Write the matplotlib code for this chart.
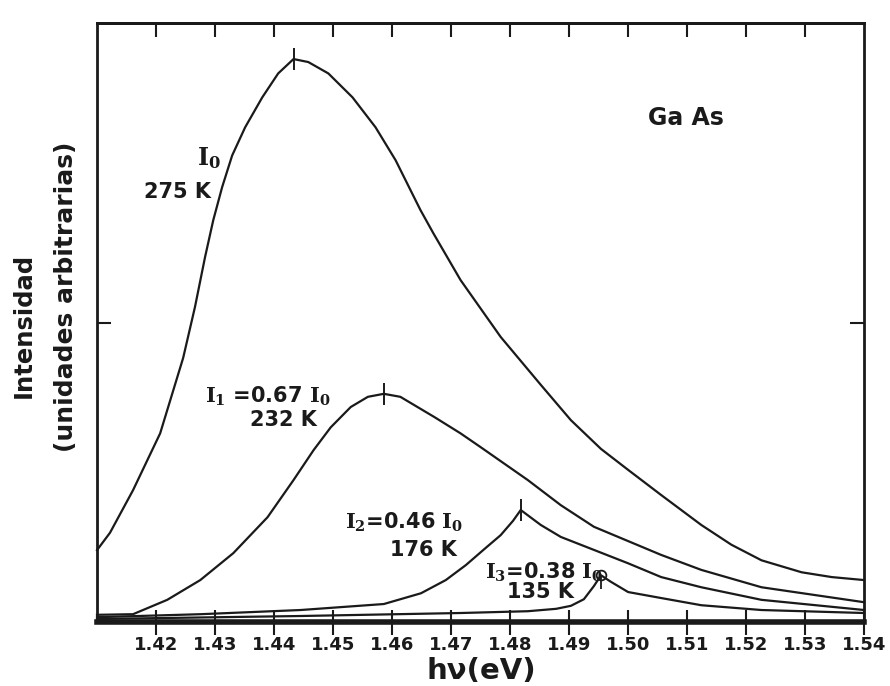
import matplotlib
matplotlib.use("Agg")
import matplotlib.pyplot as plt
import numpy as np

plt.rcParams['font.family'] = ['DejaVu Sans']
plt.rcParams['mathtext.fontset'] = 'dejavuserif'

# ---- data (photon energy in eV, intensity in arbitrary units) ----
x_275 = [1.4100, 1.4122, 1.4161, 1.4207, 1.4246, 1.4266, 1.4283, 1.4297, 1.4312, 1.4329,
         1.4351, 1.4380, 1.4407, 1.4433, 1.4458, 1.4492, 1.4533, 1.4572, 1.4606, 1.4648,
         1.4670, 1.4716, 1.4784, 1.4852, 1.4903, 1.4954, 1.5000, 1.5056, 1.5124, 1.5175,
         1.5226, 1.5294, 1.5345, 1.5400]
y_275 = [12.0, 14.9, 22.0, 31.5, 44.1, 52.6, 60.9, 67.1, 72.6, 77.9,
         82.6, 87.6, 91.6, 94.0, 93.5, 91.6, 87.6, 82.6, 77.1, 68.8,
         64.9, 57.1, 47.6, 39.6, 33.7, 28.9, 25.4, 21.2, 16.2, 12.9,
         10.3, 8.3, 7.5, 7.0]

x_232 = [1.410, 1.4161, 1.4219, 1.4275, 1.4331, 1.4389, 1.4433, 1.4467, 1.4496, 1.4530,
         1.4559, 1.4586, 1.4614, 1.4672, 1.4716, 1.4750, 1.4830, 1.4886, 1.4942, 1.5056,
         1.5124, 1.5226, 1.5400]
y_232 = [1.2, 1.3, 3.7, 7.0, 11.5, 17.5, 23.7, 28.7, 32.5, 35.9,
         37.6, 38.1, 37.6, 34.2, 31.5, 29.2, 23.7, 19.5, 15.9, 11.2,
         8.7, 5.8, 3.3]

x_176 = [1.410, 1.4275, 1.4445, 1.4586, 1.4649, 1.4691, 1.4725, 1.4759, 1.4784, 1.4805,
         1.4818, 1.4852, 1.4886, 1.5000, 1.5056, 1.5124, 1.5226, 1.5400]
y_176 = [0.8, 1.3, 2.0, 3.0, 4.8, 7.0, 9.5, 12.4, 14.5, 16.9,
         18.7, 16.2, 14.2, 9.8, 7.5, 5.8, 3.7, 2.0]

x_135 = [1.410, 1.4445, 1.4716, 1.4830, 1.4878, 1.4903, 1.4925, 1.4942, 1.4954, 1.4971,
         1.5000, 1.5056, 1.5124, 1.5226, 1.5400]
y_135 = [0.5, 1.0, 1.5, 1.8, 2.2, 2.7, 3.8, 6.0, 7.8, 6.7,
         5.0, 4.0, 2.8, 2.0, 1.5]

x_ticks = [1.42, 1.43, 1.44, 1.45, 1.46, 1.47, 1.48, 1.49, 1.50, 1.51, 1.52, 1.53, 1.54]
x_tick_labels = ["1.42", "1.43", "1.44", "1.45", "1.46", "1.47", "1.48", "1.49",
                 "1.50", "1.51", "1.52", "1.53", "1.54"]

# ---- figure ----
fig = plt.figure(figsize=(8.9, 6.86), dpi=100)
ax = fig.add_axes([0.109, 0.0933, 0.862, 0.873])

ink = '#1a1a1a'
lw = 1.6
series = [(x_275, y_275), (x_232, y_232), (x_176, y_176), (x_135, y_135)]
for i, (xs, ys) in enumerate(series):
    ax.plot(xs, ys, color=ink, lw=lw, solid_joinstyle='round', clip_on=False)
    k = int(np.argmax(ys))
    if i < 3:
        ax.plot([xs[k]], [ys[k]], marker='|', ms=16, mew=1.4, color=ink)
    else:
        ax.plot([xs[k]], [ys[k]], marker='o', ms=7, mfc='none', mew=1.3, color=ink)
        ax.plot([xs[k]], [ys[k] - 1.3], marker='|', ms=9, mew=1.3, color=ink)

ax.set_xlim(1.41, 1.54)
ax.set_ylim(0, 100)

for s in ['left', 'right', 'top']:
    ax.spines[s].set_linewidth(2.0)
    ax.spines[s].set_color(ink)
ax.spines['bottom'].set_linewidth(4.0)
ax.spines['bottom'].set_color(ink)

ax.set_xticks(x_ticks)
ax.set_xticklabels(x_tick_labels)
ax.tick_params(axis='x', direction='inout', length=18, width=1.5, color=ink,
               labelsize=13, pad=1, labelcolor=ink)
for lab in ax.get_xticklabels():
    lab.set_fontweight('bold')

ax.set_yticks([50])
ax.set_yticklabels([])
ax.tick_params(axis='y', direction='in', length=10, width=1.5, color=ink,
               left=True, right=True)

sec = ax.secondary_xaxis('top')
sec.set_xticks(x_ticks[:-1])
sec.set_xticklabels([])
sec.tick_params(direction='in', length=10, width=1.5, color=ink)
sec.spines['top'].set_linewidth(2.0)

tkw = dict(color=ink, fontsize=15, fontweight='bold', ha='center', va='center')
ax.text(1.4290, 77.4, r"$\mathbf{I}_{\mathbf{0}}$", color=ink, fontsize=17,
        ha='center', va='center')
ax.text(1.4236, 71.8, "275 K", **tkw)
ax.text(1.4389, 37.6, r"$\mathbf{I}_{\mathbf{1}}$ =0.67 $\mathbf{I}_{\mathbf{0}}$", **tkw)
ax.text(1.4416, 33.7, "232 K", **tkw)
ax.text(1.4620, 16.7, r"$\mathbf{I}_{\mathbf{2}}$=0.46 $\mathbf{I}_{\mathbf{0}}$", **tkw)
ax.text(1.4653, 12.0, "176 K", **tkw)
ax.text(1.4857, 8.3, r"$\mathbf{I}_{\mathbf{3}}$=0.38 $\mathbf{I}_{\mathbf{0}}$", **tkw)
ax.text(1.4852, 5.0, "135 K", **tkw)
ax.text(1.5098, 84.1, "Ga As", color=ink, fontsize=17, fontweight='bold',
        ha='center', va='center')

fig.text(481/890, 1 - 671/686, "hν(eV)", fontsize=21, fontweight='bold',
         color=ink, ha='center', va='center')
fig.text(24/890, 1 - 325/686, "Intensidad", fontsize=17.5, fontweight='bold',
         color=ink, ha='center', va='center', rotation=90)
fig.text(66/890, 1 - 297/686, "(unidades arbitrarias)", fontsize=18, fontweight='bold',
         color=ink, ha='center', va='center', rotation=90)

fig.savefig("out.png", dpi=100, facecolor='white')
